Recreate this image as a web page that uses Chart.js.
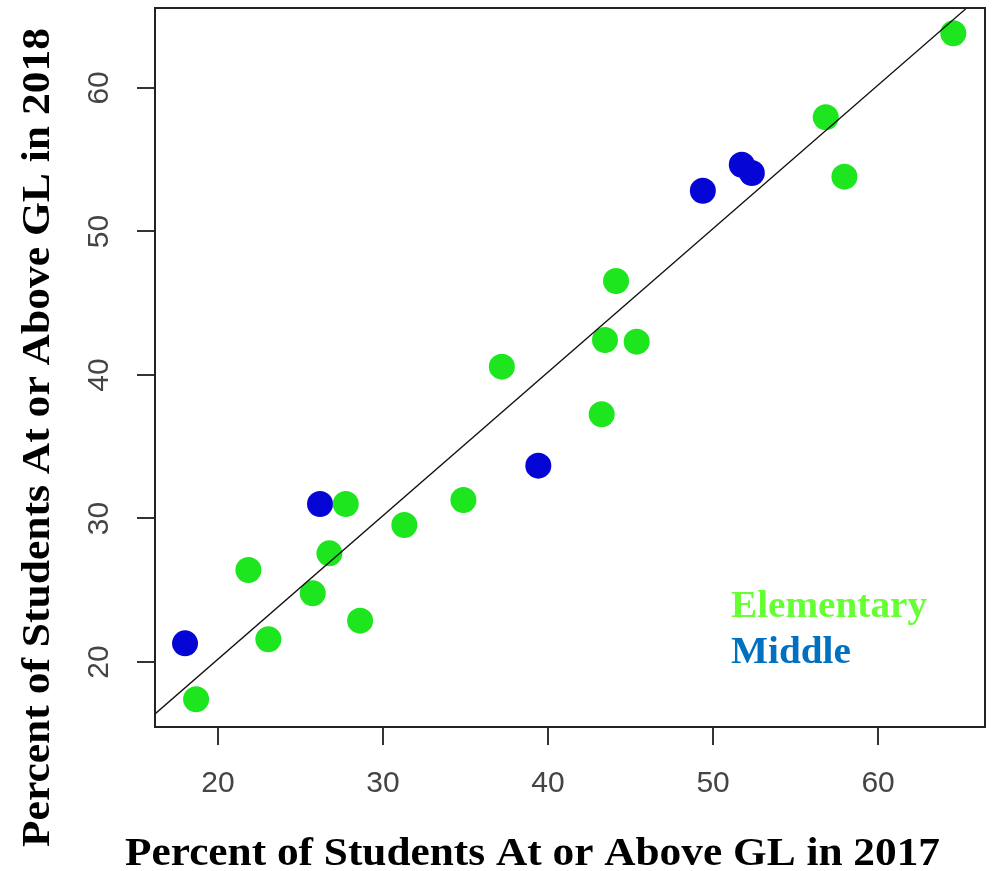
<!DOCTYPE html>
<html>
<head>
<meta charset="utf-8">
<script src="https://cdn.jsdelivr.net/npm/chart.js@4/dist/chart.umd.min.js"></script>
<style>
  html, body { margin: 0; padding: 0; background: #ffffff; }
  #wrap { width: 992px; height: 871px; }
</style>
</head>
<body>
<div id="wrap"><canvas id="c" width="992" height="871"></canvas></div>
<script>
// ---- data ----
const elementary2017 = [37.2, 43.45, 45.37, 43.25, 27.74, 34.87, 31.29, 26.75, 25.74, 21.84, 23.05, 28.61, 18.67, 44.12, 64.56, 56.83, 57.96];
const elementary2018 = [40.58, 42.44, 42.32, 37.26, 31.01, 31.29, 29.55, 27.57, 24.79, 26.41, 21.58, 22.88, 17.4, 46.55, 63.81, 57.96, 53.82];
const middle2017 = [18.0, 26.18, 39.41, 49.38, 51.74, 52.35];
const middle2018 = [21.3, 31.01, 33.68, 52.84, 54.65, 54.07];
const seriesNames = ["Elementary", "Middle"];
const xTicks = [20, 30, 40, 50, 60];
const yTicks = [20, 30, 40, 50, 60];
const xRange = [16.18, 66.48];
const yRange = [15.47, 65.57];
const refIntercept = 0.2;   // reference line y = x + c
const refSlope = 1;
const xTitle = "Percent of Students At or Above GL in 2017";
const yTitle = "Percent of Students At or Above GL in 2018";

// ---- styles ----
const pointGreen = "#1ee61e";
const pointBlue = "#0505d5";
const legendColors = ["#66ff33", "#0070c0"];
const frameColor = "#222222";

const toPts = (xs, ys) => xs.map((x, i) => ({ x: x, y: ys[i] }));
const refLine = [xRange[0], xRange[1]].map(x => ({ x: x, y: refIntercept + refSlope * x }));

function drawScaledText(ctx, text, x, y, targetWidth, rotate) {
  ctx.save();
  ctx.translate(x, y);
  if (rotate) ctx.rotate(-Math.PI / 2);
  const w = ctx.measureText(text).width;
  ctx.scale(targetWidth / w, 1);
  ctx.fillText(text, 0, 0);
  ctx.restore();
}

const overlay = {
  id: "overlay",
  afterDraw(chart) {
    const ctx = chart.ctx;
    const a = chart.chartArea;
    ctx.save();
    // frame
    ctx.strokeStyle = frameColor;
    ctx.lineWidth = 2;
    ctx.strokeRect(a.left, a.top, a.right - a.left, a.bottom - a.top);
    // axis titles
    ctx.fillStyle = "#000";
    ctx.font = "bold 40px 'Liberation Serif', 'Times New Roman', serif";
    ctx.textBaseline = "alphabetic";
    ctx.textAlign = "left";
    drawScaledText(ctx, xTitle, 125, 865, 815, false);
    drawScaledText(ctx, yTitle, 49, 847, 819, true);
    // legend text
    ctx.font = "bold 38px 'Liberation Serif', 'Times New Roman', serif";
    const scaleW = 196 / ctx.measureText(seriesNames[0]).width;
    seriesNames.forEach((name, i) => {
      ctx.fillStyle = legendColors[i];
      ctx.save();
      ctx.translate(731, 617 + i * 46);
      ctx.scale(scaleW, 1);
      ctx.fillText(name, 0, 0);
      ctx.restore();
    });
    ctx.restore();
  }
};

new Chart(document.getElementById("c"), {
  type: "scatter",
  data: {
    datasets: [
      {
        type: "line",
        label: "ref",
        data: refLine,
        borderColor: "#111",
        borderWidth: 1.3,
        pointRadius: 0,
        fill: false
      },
      {
        label: seriesNames[0],
        data: toPts(elementary2017, elementary2018),
        backgroundColor: pointGreen,
        borderWidth: 0,
        pointRadius: 13
      },
      {
        label: seriesNames[1],
        data: toPts(middle2017, middle2018),
        backgroundColor: pointBlue,
        borderWidth: 0,
        pointRadius: 13
      }
    ]
  },
  options: {
    responsive: false,
    animation: false,
    devicePixelRatio: 1,
    layout: { autoPadding: false, padding: { top: 8, right: 7, left: 0, bottom: 0 } },
    plugins: { legend: { display: false }, tooltip: { enabled: false } },
    scales: {
      x: {
        type: "linear",
        position: "bottom",
        min: xRange[0],
        max: xRange[1],
        afterBuildTicks: s => { s.ticks = xTicks.map(v => ({ value: v })); },
        afterFit: s => { s.height = 144; s.paddingLeft = 0; s.paddingRight = 0; },
        border: { display: false },
        grid: { drawOnChartArea: false, drawTicks: true, tickLength: 18, color: "#333", lineWidth: 2 },
        ticks: {
          font: { family: "'Liberation Sans', Arial, sans-serif", size: 30 },
          color: "#444",
          padding: 21,
          maxRotation: 0,
          minRotation: 0
        }
      },
      y: {
        type: "linear",
        position: "left",
        min: yRange[0],
        max: yRange[1],
        afterBuildTicks: s => { s.ticks = yTicks.map(v => ({ value: v })); },
        afterFit: s => { s.width = 155; s.paddingTop = 0; s.paddingBottom = 0; },
        border: { display: false },
        grid: { drawOnChartArea: false, drawTicks: true, tickLength: 18, color: "#333", lineWidth: 2 },
        ticks: {
          font: { family: "'Liberation Sans', Arial, sans-serif", size: 30 },
          color: "#444",
          padding: 21,
          minRotation: 90,
          maxRotation: 90,
          crossAlign: "center"
        }
      }
    }
  },
  plugins: [overlay]
});
</script>
</body>
</html>
